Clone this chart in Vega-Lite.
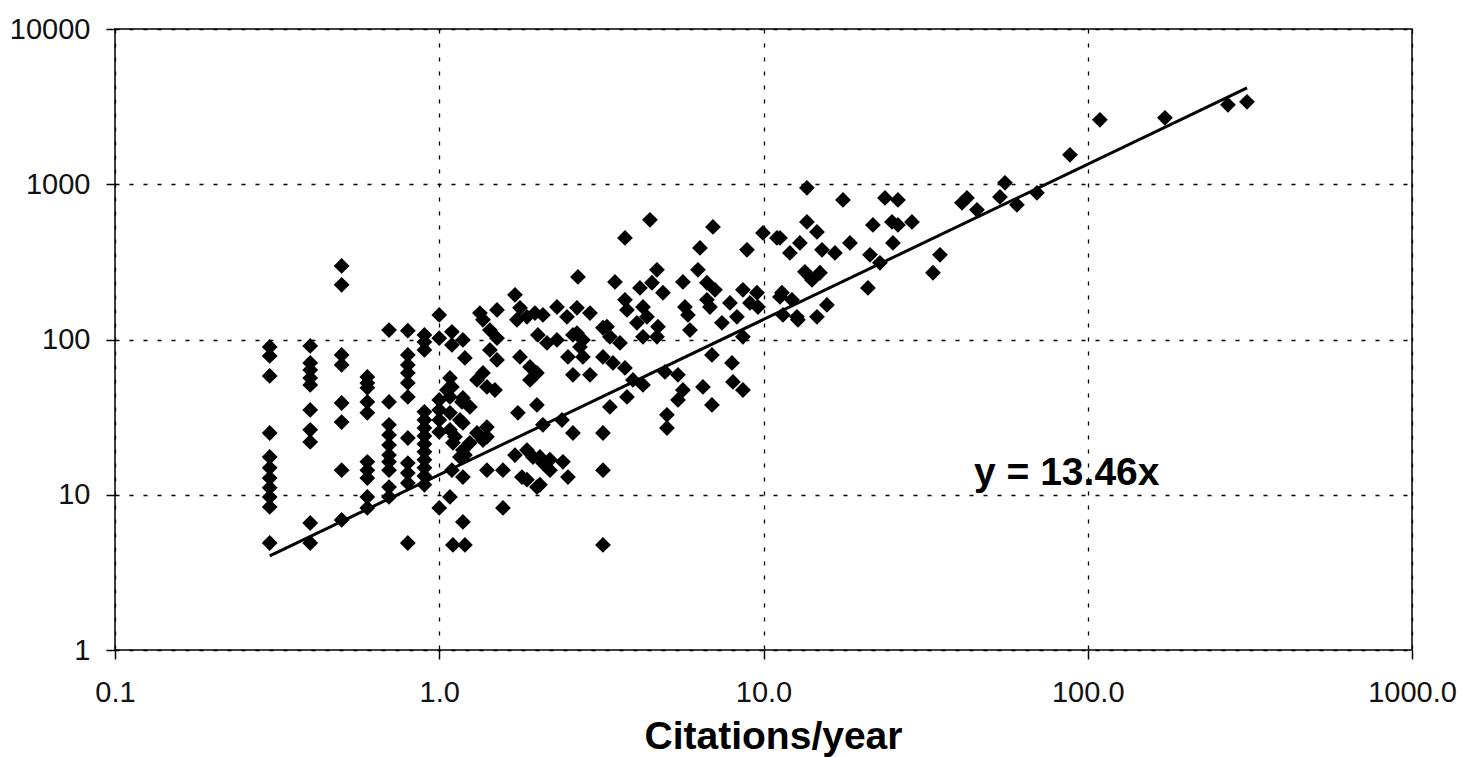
{
  "$schema": "https://vega.github.io/schema/vega-lite/v6.json",
  "width": 1297,
  "height": 621,
  "autosize": "none",
  "padding": {"left": 115, "top": 29, "right": 50, "bottom": 107},
  "background": "white",
  "config": {"view": {"stroke": "#000", "strokeWidth": 1.5}, "font": "Liberation Sans"},
  "datasets": {
    "papers": [
      {"rate":0.3,"cites":89.6},{"rate":0.3,"cites":78.4},{"rate":0.3,"cites":58.3},{"rate":0.3,"cites":25.0},{"rate":0.3,"cites":17.5},{"rate":0.3,"cites":14.9},{"rate":0.3,"cites":12.8},{"rate":0.3,"cites":11.1},{"rate":0.3,"cites":9.68},{"rate":0.3,"cites":8.35},{"rate":0.3,"cites":4.89},
      {"rate":0.4,"cites":90.9},{"rate":0.4,"cites":70.7},{"rate":0.4,"cites":63.7},{"rate":0.4,"cites":56.6},{"rate":0.4,"cites":51.0},{"rate":0.4,"cites":35.2},{"rate":0.4,"cites":26.2},{"rate":0.4,"cites":21.9},{"rate":0.4,"cites":6.58},{"rate":0.4,"cites":4.89},
      {"rate":0.5,"cites":298},{"rate":0.5,"cites":225},{"rate":0.5,"cites":79.6},{"rate":0.5,"cites":68.6},{"rate":0.5,"cites":39.0},{"rate":0.5,"cites":29.4},{"rate":0.5,"cites":14.4},{"rate":0.5,"cites":6.88},
      {"rate":0.6,"cites":57.4},{"rate":0.6,"cites":52.5},{"rate":0.6,"cites":48.8},{"rate":0.6,"cites":39.6},{"rate":0.6,"cites":33.7},{"rate":0.6,"cites":16.3},{"rate":0.6,"cites":14.4},{"rate":0.6,"cites":12.8},{"rate":0.6,"cites":9.68},{"rate":0.6,"cites":8.22},
      {"rate":0.7,"cites":115},{"rate":0.7,"cites":39.6},{"rate":0.7,"cites":28.2},{"rate":0.7,"cites":24.3},{"rate":0.7,"cites":20.9},{"rate":0.7,"cites":18.0},{"rate":0.7,"cites":16.3},{"rate":0.7,"cites":14.4},{"rate":0.7,"cites":11.2},{"rate":0.7,"cites":9.68},
      {"rate":0.8,"cites":114},{"rate":0.8,"cites":79.6},{"rate":0.8,"cites":68.6},{"rate":0.8,"cites":60.9},{"rate":0.8,"cites":52.5},{"rate":0.8,"cites":42.7},{"rate":0.8,"cites":23.2},{"rate":0.8,"cites":16.0},{"rate":0.8,"cites":13.8},{"rate":0.8,"cites":11.9},{"rate":0.8,"cites":4.89},
      {"rate":0.9,"cites":107},{"rate":0.9,"cites":96.5},{"rate":0.9,"cites":85.7},{"rate":0.9,"cites":34.2},{"rate":0.9,"cites":30.3},{"rate":0.9,"cites":26.9},{"rate":0.9,"cites":23.9},{"rate":0.9,"cites":21.2},{"rate":0.9,"cites":18.9},{"rate":0.9,"cites":16.8},{"rate":0.9,"cites":14.9},{"rate":0.9,"cites":13.2},{"rate":0.9,"cites":11.6},
      {"rate":1.0,"cites":144},{"rate":1.0,"cites":102},{"rate":1.0,"cites":40.8},{"rate":1.0,"cites":35.2},{"rate":1.0,"cites":30.3},{"rate":1.0,"cites":25.4},{"rate":1.0,"cites":8.22},
      {"rate":1.056,"cites":47.3},{"rate":1.079,"cites":56.6},{"rate":1.094,"cites":49.5},{"rate":1.079,"cites":42.7},{"rate":1.079,"cites":33.7},{"rate":1.079,"cites":26.2},{"rate":1.079,"cites":9.68},{"rate":1.094,"cites":112},{"rate":1.094,"cites":92.3},{"rate":1.094,"cites":14.4},{"rate":1.102,"cites":21.6},{"rate":1.102,"cites":4.75},{"rate":1.118,"cites":23.6},{"rate":1.158,"cites":30.3},{"rate":1.158,"cites":17.5},{"rate":1.175,"cites":39.6},{"rate":1.183,"cites":99.4},{"rate":1.183,"cites":42.0},{"rate":1.183,"cites":29.0},{"rate":1.183,"cites":19.4},{"rate":1.183,"cites":13.0},{"rate":1.183,"cites":6.68},{"rate":1.2,"cites":76.1},{"rate":1.2,"cites":18.0},{"rate":1.2,"cites":4.75},{"rate":1.243,"cites":36.8},{"rate":1.243,"cites":21.6},{"rate":1.307,"cites":54.9},{"rate":1.307,"cites":25.0},{"rate":1.335,"cites":148},{"rate":1.364,"cites":134},{"rate":1.364,"cites":60.9},{"rate":1.364,"cites":22.5},{"rate":1.403,"cites":49.5},{"rate":1.403,"cites":27.3},{"rate":1.403,"cites":23.6},{"rate":1.403,"cites":14.4},{"rate":1.433,"cites":115},{"rate":1.433,"cites":85.7},{"rate":1.485,"cites":47.3},{"rate":1.507,"cites":155},{"rate":1.507,"cites":102},{"rate":1.507,"cites":73.9},{"rate":1.572,"cites":14.4},{"rate":1.572,"cites":8.22},
      {"rate":1.712,"cites":194},{"rate":1.712,"cites":18.0},{"rate":1.736,"cites":134},{"rate":1.748,"cites":33.7},{"rate":1.774,"cites":160},{"rate":1.774,"cites":77.2},{"rate":1.799,"cites":13.0},{"rate":1.864,"cites":140},{"rate":1.864,"cites":19.4},{"rate":1.864,"cites":12.5},{"rate":1.905,"cites":66.6},{"rate":1.905,"cites":54.9},{"rate":1.945,"cites":17.5},{"rate":1.973,"cites":148},{"rate":2.001,"cites":60.9},{"rate":2.001,"cites":37.9},{"rate":2.001,"cites":11.2},{"rate":2.015,"cites":107},{"rate":2.044,"cites":17.5},{"rate":2.044,"cites":11.6},{"rate":2.088,"cites":144},{"rate":2.088,"cites":28.2},{"rate":2.088,"cites":16.0},{"rate":2.149,"cites":95.1},{"rate":2.195,"cites":16.8},{"rate":2.195,"cites":14.4},{"rate":2.307,"cites":162},{"rate":2.307,"cites":99.4},{"rate":2.39,"cites":30.3},{"rate":2.407,"cites":16.3},{"rate":2.477,"cites":140},{"rate":2.494,"cites":77.2},{"rate":2.494,"cites":13.0},{"rate":2.584,"cites":107},{"rate":2.584,"cites":59.2},{"rate":2.584,"cites":25.0},{"rate":2.659,"cites":160},{"rate":2.659,"cites":110},{"rate":2.678,"cites":253},{"rate":2.716,"cites":89.6},{"rate":2.774,"cites":99.4},{"rate":2.774,"cites":77.2},{"rate":2.916,"cites":148},{"rate":2.916,"cites":59.2},
      {"rate":3.198,"cites":119},{"rate":3.198,"cites":77.2},{"rate":3.198,"cites":25.0},{"rate":3.198,"cites":14.4},{"rate":3.198,"cites":4.75},{"rate":3.36,"cites":104},{"rate":3.36,"cites":36.8},{"rate":3.433,"cites":70.7},{"rate":3.29,"cites":121},{"rate":3.483,"cites":235},{"rate":4.465,"cites":590},{"rate":3.739,"cites":451},{"rate":6.984,"cites":531},{"rate":6.368,"cites":389},{"rate":9.961,"cites":486},{"rate":11.0,"cites":451},{"rate":8.892,"cites":378},{"rate":12.06,"cites":361},
      {"rate":4.693,"cites":281},{"rate":4.529,"cites":232},{"rate":4.159,"cites":215},{"rate":4.897,"cites":200},{"rate":3.739,"cites":180},{"rate":3.793,"cites":155},{"rate":4.249,"cites":162},{"rate":4.371,"cites":140},{"rate":4.726,"cites":121},{"rate":4.071,"cites":128},{"rate":4.249,"cites":104},{"rate":4.693,"cites":104},{"rate":3.609,"cites":95.1},{"rate":5.643,"cites":235},{"rate":6.279,"cites":281},{"rate":6.692,"cites":232},{"rate":7.084,"cites":209},{"rate":6.692,"cites":180},{"rate":6.836,"cites":162},{"rate":5.724,"cites":162},{"rate":5.848,"cites":144},{"rate":5.932,"cites":115},{"rate":8.641,"cites":209},{"rate":9.546,"cites":200},{"rate":9.083,"cites":172},{"rate":9.614,"cites":162},{"rate":7.88,"cites":172},{"rate":8.281,"cites":140},{"rate":11.4,"cites":200},{"rate":12.24,"cites":180},{"rate":12.68,"cites":140},{"rate":11.48,"cites":144},{"rate":7.444,"cites":128},{"rate":8.641,"cites":104},
      {"rate":3.739,"cites":65.6},{"rate":6.934,"cites":79.6},{"rate":7.993,"cites":70.7},{"rate":8.05,"cites":53.3},{"rate":8.641,"cites":47.3},{"rate":3.957,"cites":54.9},{"rate":4.249,"cites":51.0},{"rate":3.793,"cites":42.7},{"rate":4.967,"cites":61.8},{"rate":5.447,"cites":59.2},{"rate":5.643,"cites":47.3},{"rate":5.447,"cites":40.8},{"rate":6.505,"cites":49.5},{"rate":6.934,"cites":37.9},{"rate":5.038,"cites":32.7},{"rate":5.038,"cites":26.9},
      {"rate":13.61,"cites":948},{"rate":17.58,"cites":793},{"rate":23.69,"cites":817},{"rate":25.98,"cites":793},{"rate":42.41,"cites":817},{"rate":40.93,"cites":759},{"rate":45.53,"cites":684},{"rate":13.61,"cites":572},{"rate":14.62,"cites":493},{"rate":21.75,"cites":547},{"rate":24.9,"cites":572},{"rate":25.98,"cites":547},{"rate":28.7,"cites":572},{"rate":11.24,"cites":451},{"rate":12.95,"cites":419},{"rate":15.15,"cites":378},{"rate":16.61,"cites":361},{"rate":18.48,"cites":419},{"rate":21.3,"cites":351},{"rate":25.07,"cites":419},{"rate":22.86,"cites":312},{"rate":13.42,"cites":273},{"rate":14.93,"cites":269},{"rate":14.11,"cites":242},{"rate":35.01,"cites":351},{"rate":33.31,"cites":269},{"rate":20.99,"cites":215},{"rate":11.24,"cites":188},{"rate":12.77,"cites":134},{"rate":14.62,"cites":140},{"rate":15.69,"cites":167},
      {"rate":55.55,"cites":1021},{"rate":53.61,"cites":829},{"rate":60.46,"cites":737},{"rate":69.7,"cites":880},{"rate":88.13,"cites":1547},{"rate":109.0,"cites":2600},{"rate":173.0,"cites":2678},{"rate":270.6,"cites":3248},{"rate":309.8,"cites":3396}
    ],
    "trend": [{"rate": 0.3, "cites": 4.038}, {"rate": 310, "cites": 4172.6}],
    "note": [{"rate": 44.6, "cites": 11.6, "label": "y = 13.46x"}]
  },
  "layer": [
    {
      "data": {"name": "papers"},
      "mark": {"type": "point", "shape": "diamond", "filled": true, "color": "#000", "size": 250, "opacity": 1},
      "encoding": {
        "x": {
          "field": "rate", "type": "quantitative",
          "scale": {"type": "log", "domain": [0.1, 1000], "nice": false},
          "axis": {
            "values": [0.1, 1, 10, 100, 1000], "format": ".1f",
            "title": "Citations/year",
            "grid": true, "gridColor": "#000", "gridDash": [4, 10], "gridWidth": 1.3,
            "domain": false, "tickColor": "#000", "tickSize": 9, "tickWidth": 1.5,
            "labelFont": "Liberation Sans", "labelFontSize": 29, "labelColor": "#111", "labelPadding": 19,
            "labelFlush": false, "labelOverlap": false,
            "titleFont": "Liberation Sans", "titleFontSize": 39, "titleFontWeight": "bold", "titleColor": "#000",
            "titleX": 658, "titleAlign": "center", "titleY": 98, "titleBaseline": "alphabetic"
          }
        },
        "y": {
          "field": "cites", "type": "quantitative",
          "scale": {"type": "log", "domain": [1, 10000], "nice": false},
          "axis": {
            "values": [1, 10, 100, 1000, 10000], "format": "d",
            "title": null,
            "grid": true, "gridColor": "#000", "gridDash": [4, 10], "gridWidth": 1.3,
            "domain": false, "tickColor": "#000", "tickSize": 9, "tickWidth": 1.5,
            "labelFont": "Liberation Sans", "labelFontSize": 29, "labelColor": "#111", "labelPadding": 16,
            "labelFlush": false, "labelOverlap": false
          }
        }
      }
    },
    {
      "data": {"name": "trend"},
      "mark": {"type": "line", "color": "#000", "strokeWidth": 3},
      "encoding": {
        "x": {"field": "rate", "type": "quantitative"},
        "y": {"field": "cites", "type": "quantitative"}
      }
    },
    {
      "data": {"name": "note"},
      "mark": {"type": "text", "align": "left", "baseline": "alphabetic", "font": "Liberation Sans", "fontSize": 39, "fontWeight": "bold", "color": "#000"},
      "encoding": {
        "x": {"field": "rate", "type": "quantitative"},
        "y": {"field": "cites", "type": "quantitative"},
        "text": {"field": "label"}
      }
    }
  ]
}
